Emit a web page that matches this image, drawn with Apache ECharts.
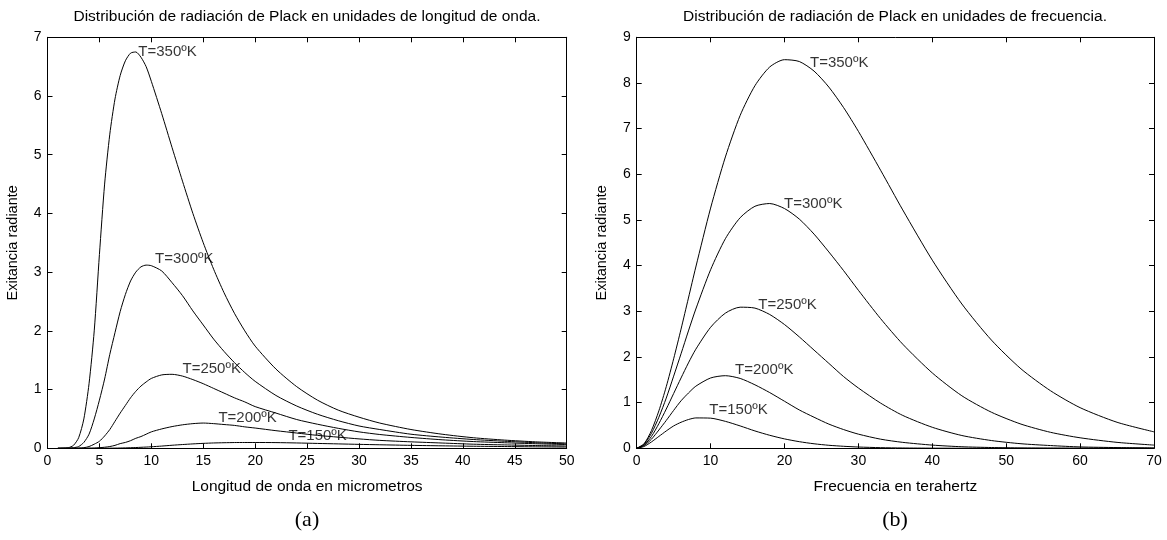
<!DOCTYPE html>
<html>
<head>
<meta charset="utf-8">
<script src="https://cdn.jsdelivr.net/npm/echarts@6/dist/echarts.min.js"></script>
<style>html,body{margin:0;padding:0;background:#fff;}#c{width:1167px;height:540px;}</style>
</head>
<body>
<div id="c"></div>
<script>
// ---- Data ----
const waveX = [1,2,2.5,3,3.5,4,4.5,5,5.5,6,6.5,7,7.5,8,8.5,9,9.5,10,11,12,13,14,15,16,17,18,19,20,22,24,26,28,30,32,35,38,41,44,47,50];
const wave350 = [0,0.01,0.05,0.18,0.5,1.1,2.0,3.3,4.5,5.35,5.95,6.35,6.6,6.73,6.75,6.66,6.5,6.25,5.7,5.12,4.55,4.0,3.5,3.05,2.65,2.3,2.0,1.74,1.35,1.05,0.82,0.65,0.53,0.43,0.32,0.24,0.18,0.14,0.11,0.09];
const wave300 = [0,0,0.01,0.03,0.1,0.24,0.5,0.82,1.18,1.6,1.97,2.33,2.62,2.85,3.0,3.09,3.12,3.11,3.02,2.82,2.6,2.34,2.1,1.86,1.65,1.46,1.29,1.14,0.9,0.72,0.58,0.47,0.38,0.32,0.24,0.19,0.15,0.12,0.095,0.075];
const wave250 = [0,0,0,0.003,0.01,0.03,0.07,0.12,0.21,0.32,0.46,0.6,0.73,0.86,0.97,1.06,1.13,1.19,1.25,1.26,1.23,1.17,1.1,1.02,0.94,0.86,0.79,0.71,0.6,0.49,0.41,0.34,0.28,0.235,0.185,0.145,0.115,0.095,0.078,0.064];
const wave200 = [0,0,0,0,0,0.002,0.004,0.01,0.018,0.03,0.05,0.08,0.1,0.13,0.17,0.2,0.24,0.28,0.33,0.37,0.4,0.42,0.43,0.42,0.405,0.39,0.365,0.345,0.3,0.26,0.22,0.19,0.16,0.135,0.11,0.09,0.07,0.058,0.047,0.039];
const wave150 = [0,0,0,0,0,0,0,0.001,0.001,0.002,0.003,0.005,0.007,0.01,0.013,0.017,0.021,0.026,0.038,0.052,0.064,0.075,0.084,0.091,0.095,0.098,0.099,0.099,0.097,0.091,0.083,0.075,0.067,0.06,0.05,0.042,0.035,0.03,0.025,0.021];

const freqX = [0,1,2,3,4,5,6,7,8,10,12,14,16,18,20,22,24,26,28,30,33,36,40,44,48,52,56,60,65,70];
const freq350 = [0,0.1,0.39,0.82,1.35,1.96,2.61,3.29,3.97,5.26,6.38,7.29,7.94,8.35,8.51,8.47,8.26,7.91,7.46,6.94,6.09,5.22,4.12,3.16,2.37,1.74,1.26,0.89,0.57,0.36];
const freq300 = [0,0.09,0.33,0.68,1.1,1.58,2.07,2.57,3.05,3.91,4.59,5.05,5.3,5.36,5.25,5.02,4.69,4.3,3.89,3.46,2.84,2.28,1.65,1.15,0.79,0.53,0.35,0.23,0.13,0.07];
const freq250 = [0,0.07,0.26,0.54,0.86,1.2,1.54,1.87,2.17,2.65,2.96,3.09,3.07,2.93,2.71,2.44,2.15,1.86,1.57,1.32,0.99,0.72,0.46,0.28,0.17,0.1,0.06,0.03,0.016,0.008];
const freq200 = [0,0.06,0.2,0.4,0.61,0.83,1.04,1.21,1.36,1.54,1.59,1.53,1.39,1.22,1.03,0.84,0.68,0.53,0.41,0.31,0.2,0.13,0.07,0.034,0.017,0.008,0.004,0.002,0.001,0];
const freq150 = [0,0.04,0.14,0.26,0.38,0.49,0.57,0.63,0.665,0.66,0.59,0.49,0.38,0.285,0.206,0.145,0.099,0.066,0.044,0.028,0.014,0.007,0.003,0.001,0,0,0,0,0,0];

const curveLabels = ['T=350ºK','T=300ºK','T=250ºK','T=200ºK','T=150ºK'];
const waveLabelX = [8.75,10.36,13.0,16.46,23.2];
const waveLabelY = [6.75,3.22,1.35,0.51,0.21];
const freqLabelX = [23.45,19.93,16.46,13.3,9.83];
const freqLabelY = [8.43,5.36,3.14,1.71,0.84];

const waveTicksX = [0,5,10,15,20,25,30,35,40,45,50];
const waveTicksY = [0,1,2,3,4,5,6,7];
const freqTicksX = [0,10,20,30,40,50,60,70];
const freqTicksY = [0,1,2,3,4,5,6,7,8,9];

const titleA = 'Distribución de radiación de Plack en unidades de longitud de onda.';
const titleB = 'Distribución de radiación de Plack en unidades de frecuencia.';
const xNameA = 'Longitud de onda en micrometros';
const xNameB = 'Frecuencia en terahertz';
const yName = 'Exitancia radiante';

// ---- Chart ----
const FONT = 'Liberation Sans, Arial, sans-serif';
const chart = echarts.init(document.getElementById('c'), null, {renderer: 'canvas'});

function pairs(xs, ys){ return xs.map((x,i)=>[x, ys[i]]); }
function lineSeries(grid, xs, ys){
  return {type:'line', xAxisIndex: grid*2, yAxisIndex: grid*2, data: pairs(xs, ys),
    showSymbol:false, symbol:'none', smooth:0.25, lineStyle:{color:'#000', width:1}, silent:true, z:3};
}
function labelSeries(grid, xs, ys){
  return {type:'scatter', xAxisIndex: grid*2, yAxisIndex: grid*2, symbolSize:0,
    data: xs.map((x,i)=>({value:[x, ys[i]], name: curveLabels[i]})), silent:true, z:5,
    label:{show:true, position:'right', distance:0, formatter: p=>p.name,
      fontFamily: FONT, fontSize: 15, color:'#000'}};
}
const axisCommon = {
  axisLine:{show:true, onZero:false, lineStyle:{color:'#000', width:1}},
  axisTick:{show:true, inside:true, length:5, lineStyle:{color:'#000', width:1}},
  splitLine:{show:false}
};
function xAx(grid, pos, min, max, step, showLabel, name){
  return Object.assign({}, axisCommon, {type:'value', gridIndex:grid, position:pos, min, max, interval:step,
    axisLabel:{show:showLabel, color:'#000', fontFamily:FONT, fontSize:14, margin:6},
    name: name||'', nameLocation:'middle', nameGap:30,
    nameTextStyle:{color:'#000', fontFamily:FONT, fontSize:15.5}});
}
function yAx(grid, pos, min, max, step, showLabel, name){
  return Object.assign({}, axisCommon, {type:'value', gridIndex:grid, position:pos, min, max, interval:step,
    axisLabel:{show:showLabel, color:'#000', fontFamily:FONT, fontSize:14, margin:6},
    name: name||'', nameLocation:'middle', nameGap:27,
    nameTextStyle:{color:'#000', fontFamily:FONT, fontSize:14.5}});
}

const option = {
  animation:false,
  backgroundColor:'#fff',
  grid:[
    {left:47.5, right:600.3, top:37.3, bottom:91.7},
    {left:636.7, right:13, top:37.3, bottom:91.7}
  ],
  xAxis:[
    xAx(0,'bottom',waveTicksX[0],waveTicksX[waveTicksX.length-1],5,true,xNameA),
    xAx(0,'top',waveTicksX[0],waveTicksX[waveTicksX.length-1],5,false),
    xAx(1,'bottom',freqTicksX[0],freqTicksX[freqTicksX.length-1],10,true,xNameB),
    xAx(1,'top',freqTicksX[0],freqTicksX[freqTicksX.length-1],10,false)
  ],
  yAxis:[
    yAx(0,'left',waveTicksY[0],waveTicksY[waveTicksY.length-1],1,true,yName),
    yAx(0,'right',waveTicksY[0],waveTicksY[waveTicksY.length-1],1,false),
    yAx(1,'left',freqTicksY[0],freqTicksY[freqTicksY.length-1],1,true,yName),
    yAx(1,'right',freqTicksY[0],freqTicksY[freqTicksY.length-1],1,false)
  ],
  series:[
    lineSeries(0, waveX, wave350), lineSeries(0, waveX, wave300), lineSeries(0, waveX, wave250),
    lineSeries(0, waveX, wave200), lineSeries(0, waveX, wave150),
    lineSeries(1, freqX, freq350), lineSeries(1, freqX, freq300), lineSeries(1, freqX, freq250),
    lineSeries(1, freqX, freq200), lineSeries(1, freqX, freq150),
    labelSeries(0, waveLabelX, waveLabelY),
    labelSeries(1, freqLabelX, freqLabelY)
  ],
  graphic:[
    {type:'text', x:307, y:17, style:{text:titleA, fill:'#000', font:'15.5px '+FONT, textAlign:'center', textVerticalAlign:'middle'}},
    {type:'text', x:895, y:17, style:{text:titleB, fill:'#000', font:'15.5px '+FONT, textAlign:'center', textVerticalAlign:'middle'}},
    {type:'text', x:307, y:520, style:{text:'(a)', fill:'#000', font:'22px Liberation Serif, Times New Roman, serif', textAlign:'center', textVerticalAlign:'middle'}},
    {type:'text', x:895, y:520, style:{text:'(b)', fill:'#000', font:'22px Liberation Serif, Times New Roman, serif', textAlign:'center', textVerticalAlign:'middle'}}
  ]
};
chart.setOption(option);
</script>
</body>
</html>
